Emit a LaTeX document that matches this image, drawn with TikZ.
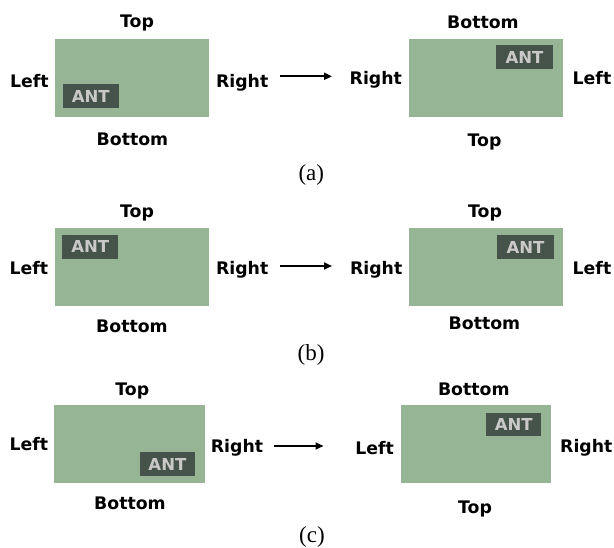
\documentclass[tikz,border=0pt]{standalone}
\usepackage{fontspec}
\newfontfamily\lblfont{DejaVu Sans}
\newfontfamily\capfont{Liberation Serif}
\usetikzlibrary{arrows.meta}
\definecolor{boardgreen}{RGB}{150,181,148}
\definecolor{antdark}{RGB}{70,83,74}
\definecolor{antgrey}{RGB}{201,201,201}
\tikzset{
  board/.style={fill=boardgreen, draw=none, inner sep=0pt, minimum height=78.5pt},
  antbox/.style={fill=antdark, draw=none, inner sep=0pt, minimum height=23.7pt,
    text=antgrey, font=\lblfont\bfseries\fontsize{16.5}{18}\selectfont},
  side/.style={anchor=base, inner sep=0pt, font=\lblfont\bfseries\fontsize{17.3}{19}\selectfont},
  caption/.style={anchor=base, inner sep=0pt, font=\capfont\fontsize{23}{25}\selectfont},
  conn/.style={line width=1.9pt, -{Triangle[length=8pt,width=7pt]}}
}
\begin{document}
\begin{tikzpicture}[x=1pt,y=-1pt]
\useasboundingbox (0,0) rectangle (614,548);

% ---- (a) ----
\node[board, minimum width=154pt] (aL) at (132,78) {};
\node[antbox, minimum width=56pt] (aLant) at (90.7,96) {ANT};
\node[side] (aLtop) at (137,27.7) {Top};
\node[side] (aLleft) at (29.3,87.3) {Left};
\node[side] (aLright) at (242.2,87.3) {Right};
\node[side] (aLbot) at (132.5,146) {Bottom};

\node[board, minimum width=153.7pt] (aR) at (486.2,78) {};
\node[antbox, minimum width=56.4pt] (aRant) at (524.5,57.2) {ANT};
\node[side] (aRbot) at (483,28.3) {Bottom};
\node[side] (aRright) at (375.8,84.3) {Right};
\node[side] (aRleft) at (592,84.3) {Left};
\node[side] (aRtop) at (484.5,147) {Top};

\coordinate (aS) at (280,76.3);
\coordinate (aE) at (332,76.3);
\draw[conn] (aS) -- (aE);
\node[caption] (capa) at (311.3,181) {(a)};

% ---- (b) ----
\node[board, minimum width=154.3pt] (bL) at (131.9,266.9) {};
\node[antbox, minimum width=56pt] (bLant) at (90.3,246.9) {ANT};
\node[side] (bLtop) at (137,218) {Top};
\node[side] (bLleft) at (28.8,274.3) {Left};
\node[side] (bLright) at (242.2,274.3) {Right};
\node[side] (bLbot) at (132,332.7) {Bottom};

\node[board, minimum width=154pt] (bR) at (486.3,266.9) {};
\node[antbox, minimum width=57pt] (bRant) at (525.5,247) {ANT};
\node[side] (bRtop) at (485,217.3) {Top};
\node[side] (bRright) at (376.2,274.3) {Right};
\node[side] (bRleft) at (592,274.3) {Left};
\node[side] (bRbot) at (484.5,330) {Bottom};

\coordinate (bS) at (280,266);
\coordinate (bE) at (332,266);
\draw[conn] (bS) -- (bE);
\node[caption] (capb) at (311,361) {(b)};

% ---- (c) ----
\node[board, minimum width=150.7pt, minimum height=77.7pt] (cL) at (129.4,443.9) {};
\node[antbox, minimum width=55.3pt] (cLant) at (167.4,464.2) {ANT};
\node[side] (cLtop) at (132.3,396) {Top};
\node[side] (cLleft) at (28.8,450) {Left};
\node[side] (cLright) at (237,452.7) {Right};
\node[side] (cLbot) at (130,509.3) {Bottom};

\node[board, minimum width=150.3pt, minimum height=77.7pt] (cR) at (476.2,443.9) {};
\node[antbox, minimum width=55.3pt, minimum height=23pt] (cRant) at (513.7,424.2) {ANT};
\node[side] (cRbot) at (473.8,395.7) {Bottom};
\node[side] (cRleft) at (374.7,454.3) {Left};
\node[side] (cRright) at (586.3,452.3) {Right};
\node[side] (cRtop) at (475,513.3) {Top};

\coordinate (cS) at (274,446);
\coordinate (cE) at (323.5,446);
\draw[conn] (cS) -- (cE);
\node[caption] (capc) at (312,542.3) {(c)};
\end{tikzpicture}
\end{document}
